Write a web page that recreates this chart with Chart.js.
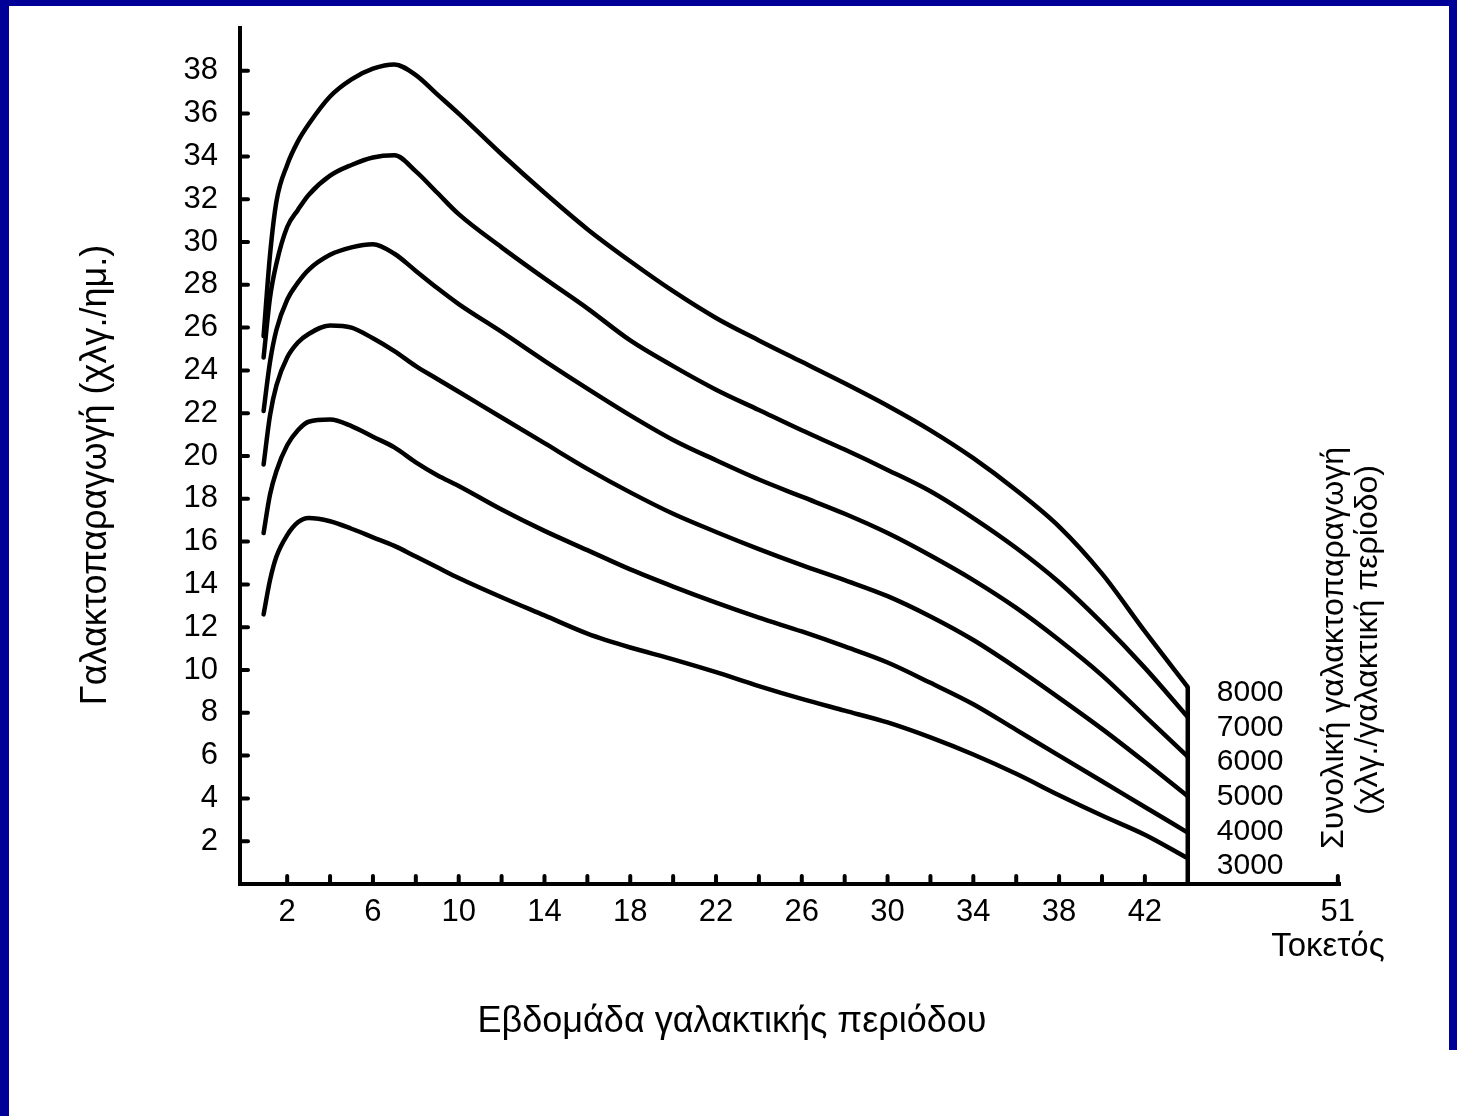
<!DOCTYPE html>
<html lang="el">
<head>
<meta charset="utf-8">
<title>Καμπύλες γαλακτοπαραγωγής</title>
<script src="https://cdn.jsdelivr.net/npm/chart.js@4.4.1/dist/chart.umd.min.js"></script>
<style>
  html, body { margin: 0; padding: 0; background: #fff; }
  #wrap { position: relative; width: 1457px; height: 1116px; overflow: hidden; background: #fff; }
  #wrap canvas { display: block; }
  .frame { position: absolute; background: #000099; }
</style>
</head>
<body>
<div id="wrap">
  <canvas id="lactation-chart" width="1457" height="1116"></canvas>
  <div class="frame" style="left:0;top:0;width:9px;height:1116px"></div>
  <div class="frame" style="left:0;top:0;width:1457px;height:6px"></div>
  <div class="frame" style="right:0;top:0;width:8px;height:1050px"></div>
</div>
<script>
// Week of lactation (shared grid for all curves)
const weeks = [0.9, 1.2, 1.5, 2, 2.5, 3, 4, 5, 6, 7, 8, 9, 10, 12, 14, 16, 18, 20, 22, 24, 26, 28, 30, 32, 34, 36, 38, 40, 42, 44];

// Daily milk yield (kg/day) per total lactation yield
const milk8000 = [25.6, 29.4, 31.9, 33.6, 34.7, 35.5, 36.8, 37.6, 38.1, 38.3, 37.8, 36.9, 36.0, 34.1, 32.3, 30.6, 29.1, 27.7, 26.45, 25.4, 24.4, 23.4, 22.35, 21.2, 19.9, 18.4, 16.7, 14.5, 11.8, 9.2];
const milk7000 = [24.6, 27.4, 29.0, 30.7, 31.5, 32.2, 33.1, 33.6, 33.95, 34.05, 33.3, 32.3, 31.3, 29.75, 28.3, 26.9, 25.4, 24.2, 23.1, 22.15, 21.2, 20.3, 19.35, 18.35, 17.1, 15.7, 14.1, 12.2, 10.1, 7.8];
const milk6000 = [22.1, 24.4, 25.9, 27.3, 28.1, 28.7, 29.4, 29.75, 29.9, 29.45, 28.65, 27.85, 27.1, 25.8, 24.45, 23.15, 21.9, 20.75, 19.8, 18.9, 18.1, 17.3, 16.4, 15.35, 14.2, 12.9, 11.4, 9.75, 7.85, 5.95];
const milk5000 = [19.6, 21.9, 23.3, 24.6, 25.3, 25.7, 26.1, 26.0, 25.5, 24.9, 24.2, 23.6, 23.0, 21.8, 20.6, 19.4, 18.3, 17.3, 16.45, 15.65, 14.9, 14.2, 13.45, 12.5, 11.4, 10.1, 8.7, 7.25, 5.7, 4.1];
const milk4000 = [16.4, 18.2, 19.3, 20.5, 21.2, 21.6, 21.7, 21.4, 20.9, 20.4, 19.7, 19.1, 18.6, 17.5, 16.5, 15.6, 14.7, 13.9, 13.15, 12.45, 11.8, 11.1, 10.35, 9.4, 8.4, 7.2, 6.0, 4.8, 3.6, 2.4];
const milk3000 = [12.6, 14.2, 15.3, 16.3, 16.9, 17.1, 16.95, 16.6, 16.2, 15.8, 15.3, 14.8, 14.3, 13.4, 12.55, 11.7, 11.05, 10.5, 9.9, 9.25, 8.65, 8.1, 7.55, 6.85, 6.05, 5.15, 4.15, 3.2, 2.3, 1.2];

// Total lactation yield labels, top to bottom
const totals = ['8000', '7000', '6000', '5000', '4000', '3000'];

// End of lactation (week) and calving week
const endWeek = 44;
const calvingWeek = 51;

// Axis ticks
const xLabelTicks = [2, 6, 10, 14, 18, 22, 26, 30, 34, 38, 42, 51];
const xTickMarks = [2, 4, 6, 8, 10, 12, 14, 16, 18, 20, 22, 24, 26, 28, 30, 32, 34, 36, 38, 40, 42, 51];
const yTicks = [2, 4, 6, 8, 10, 12, 14, 16, 18, 20, 22, 24, 26, 28, 30, 32, 34, 36, 38];

const FONT = '"Liberation Sans", Arial, Helvetica, sans-serif';

const toPoints = values => weeks.map((w, i) => ({ x: w, y: values[i] }));

const curveStyle = {
  borderColor: '#000',
  borderWidth: 4.5,
  pointRadius: 0,
  fill: false,
  cubicInterpolationMode: 'monotone',
  borderCapStyle: 'round',
  borderJoinStyle: 'round'
};

// Inward tick marks, side labels and axis titles
const decorations = {
  id: 'decorations',
  afterDraw(chart) {
    const { ctx, scales: { x, y } } = chart;
    ctx.save();
    ctx.strokeStyle = '#000';
    ctx.lineWidth = 4;
    ctx.lineCap = 'round';

    yTicks.forEach(v => {
      const py = y.getPixelForValue(v);
      ctx.beginPath();
      ctx.moveTo(x.left, py);
      ctx.lineTo(x.left + 8, py);
      ctx.stroke();
    });
    xTickMarks.forEach(v => {
      const px = x.getPixelForValue(v);
      ctx.beginPath();
      ctx.moveTo(px, y.bottom);
      ctx.lineTo(px, y.bottom - 8);
      ctx.stroke();
    });

    ctx.fillStyle = '#000';

    // Total yield labels beside the end-of-lactation line
    ctx.font = '30px ' + FONT;
    ctx.textAlign = 'left';
    ctx.textBaseline = 'middle';
    const labelX = x.getPixelForValue(endWeek) + 29;
    totals.forEach((t, i) => {
      ctx.fillText(t, labelX, 693 + i * 34.6);
    });

    // Calving label under 51
    ctx.textAlign = 'center';
    ctx.font = '33px ' + FONT;
    ctx.fillText('Τοκετός', x.getPixelForValue(calvingWeek) - 10, y.bottom + 63);

    // X title
    ctx.font = '36px ' + FONT;
    ctx.fillText('Εβδομάδα γαλακτικής περιόδου', 732, 1022);

    // Y title (left)
    ctx.save();
    ctx.translate(96, 475);
    ctx.rotate(-Math.PI / 2);
    ctx.font = '36px ' + FONT;
    ctx.fillText('Γαλακτοπαραγωγή (χλγ./ημ.)', 0, 0);
    ctx.restore();

    // Right title
    ctx.save();
    ctx.translate(1334, 648);
    ctx.rotate(-Math.PI / 2);
    ctx.font = '32px ' + FONT;
    ctx.fillText('Συνολική γαλακτοπαραγωγή', 0, 0);
    ctx.restore();

    ctx.save();
    ctx.translate(1368, 640);
    ctx.rotate(-Math.PI / 2);
    ctx.font = '32px ' + FONT;
    ctx.fillText('(χλγ./γαλακτική περίοδο)', 0, 0);
    ctx.restore();

    ctx.restore();
  }
};

const ctx = document.getElementById('lactation-chart');
new Chart(ctx, {
  type: 'line',
  data: {
    datasets: [
      { label: '8000', data: toPoints(milk8000), ...curveStyle },
      { label: '7000', data: toPoints(milk7000), ...curveStyle },
      { label: '6000', data: toPoints(milk6000), ...curveStyle },
      { label: '5000', data: toPoints(milk5000), ...curveStyle },
      { label: '4000', data: toPoints(milk4000), ...curveStyle },
      { label: '3000', data: toPoints(milk3000), ...curveStyle },
      {
        label: 'end',
        data: [{ x: endWeek, y: 0 }, { x: endWeek, y: milk8000[milk8000.length - 1] }],
        borderColor: '#000',
        borderWidth: 4.5,
        pointRadius: 0,
        tension: 0
      }
    ]
  },
  options: {
    responsive: false,
    animation: false,
    layout: { padding: { top: 28, right: 117, bottom: 0, left: 0 } },
    plugins: {
      legend: { display: false },
      tooltip: { enabled: false },
      title: { display: false }
    },
    scales: {
      x: {
        type: 'linear',
        min: -0.2,
        max: 51.1,
        afterBuildTicks: s => { s.ticks = xLabelTicks.map(v => ({ value: v })); },
        afterFit: s => { s.height = 232; },
        grid: { display: false, drawTicks: false },
        border: { display: true, color: '#000', width: 4 },
        ticks: {
          color: '#000',
          font: { family: FONT, size: 31 },
          padding: 10,
          maxRotation: 0,
          autoSkip: false
        }
      },
      y: {
        type: 'linear',
        min: 0,
        max: 40,
        afterBuildTicks: s => { s.ticks = yTicks.map(v => ({ value: v })); },
        afterFit: s => {
          s.width = 240;
          // labels sit far from the ends, so no extra room is needed
          s.paddingTop = 0;
          s.paddingBottom = 0;
        },
        grid: { display: false, drawTicks: false },
        border: { display: true, color: '#000', width: 4 },
        ticks: {
          color: '#000',
          font: { family: FONT, size: 31 },
          padding: 22
        }
      }
    }
  },
  plugins: [decorations]
});
</script>
</body>
</html>
